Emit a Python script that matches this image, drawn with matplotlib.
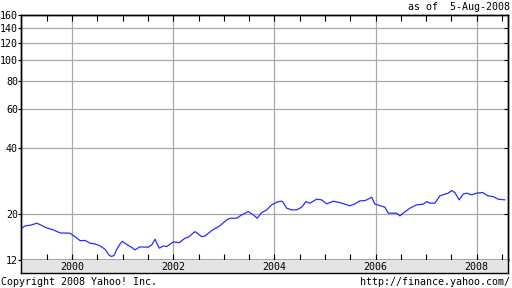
import matplotlib
matplotlib.use("Agg")
import matplotlib.pyplot as plt
from matplotlib.ticker import FixedLocator, NullFormatter, NullLocator

# ---- data (decimal year, price) ----
dates = [1999.006, 1999.071, 1999.19, 1999.302, 1999.387, 1999.5, 1999.63, 1999.763,
         1999.96, 2000.06, 2000.158, 2000.257, 2000.356, 2000.455, 2000.553, 2000.652,
         2000.737, 2000.78, 2000.83, 2000.889, 2000.949, 2000.994, 2001.081, 2001.18,
         2001.245, 2001.334, 2001.508, 2001.575, 2001.64, 2001.725, 2001.804, 2001.872,
         2002.002, 2002.12, 2002.233, 2002.298, 2002.431, 2002.563, 2002.628, 2002.761,
         2002.925, 2003.057, 2003.123, 2003.255, 2003.354, 2003.484, 2003.583, 2003.662,
         2003.749, 2003.848, 2003.947, 2004.045, 2004.125, 2004.164, 2004.243, 2004.342,
         2004.441, 2004.54, 2004.625, 2004.704, 2004.836, 2004.935, 2005.034, 2005.164,
         2005.296, 2005.395, 2005.494, 2005.593, 2005.692, 2005.791, 2005.856, 2005.923,
         2005.988, 2006.087, 2006.186, 2006.251, 2006.417, 2006.482, 2006.547, 2006.68,
         2006.812, 2006.943, 2007.01, 2007.075, 2007.174, 2007.273, 2007.372, 2007.437,
         2007.504, 2007.569, 2007.654, 2007.733, 2007.8, 2007.899, 2007.998, 2008.116,
         2008.227, 2008.326, 2008.425, 2008.557]
prices = [17.22, 17.64, 17.8, 18.15, 17.77, 17.27, 16.92, 16.39,
          16.34, 15.76, 15.12, 15.15, 14.72, 14.61, 14.31, 13.82,
          12.95, 12.82, 12.95, 13.87, 14.61, 15.0, 14.53, 14.08,
          13.72, 14.16, 14.12, 14.46, 15.35, 13.97, 14.31, 14.21,
          14.92, 14.81, 15.51, 15.67, 16.62, 15.76, 15.88, 16.79,
          17.69, 18.78, 19.12, 19.12, 19.79, 20.49, 19.79, 19.12,
          20.27, 20.86, 21.98, 22.61, 22.84, 22.75, 21.23, 20.86,
          20.86, 21.45, 22.75, 22.37, 23.33, 23.16, 22.21, 22.84,
          22.51, 22.14, 21.75, 22.21, 22.92, 22.99, 23.33, 23.82,
          22.14, 21.82, 21.45, 20.15, 20.15, 19.59, 20.15, 21.23,
          21.98, 22.14, 22.75, 22.37, 22.37, 24.15, 24.58, 24.84,
          25.52, 25.0, 23.16, 24.58, 24.84, 24.40, 24.84, 25.0,
          24.15, 23.97, 23.33, 23.16]

y_ticks = [20, 40, 60, 80, 100, 120, 140, 160]
y_labels = ["20", "40", "60", "80", "100", "120", "140", "160"]
y_min, y_min_label = 12.35, "12"
y_max = 160
x_min, x_max = 1998.99, 2008.62
year_ticks = [2000, 2002, 2004, 2006, 2008]
year_labels = ["2000", "2002", "2004", "2006", "2008"]
half_year_ticks = [1999.5 + 0.5 * i for i in range(19)]

FONT = "DejaVu Sans Mono"
FS = 7.2
W, H = 512, 288

fig = plt.figure(figsize=(W / 100, H / 100), dpi=100)
fig.patch.set_facecolor("white")

# main plot area: x 21..508, y 15..260 (pixels from top)
ax = fig.add_axes([21 / W, (H - 260) / H, 487 / W, 245 / H])
ax.set_yscale("log")
ax.set_xlim(x_min, x_max)
ax.set_ylim(y_min, y_max)

for yv in y_ticks[:-1]:
    ax.axhline(yv, color="#a8a8a8", lw=0.9, zorder=1)
for xv in year_ticks:
    ax.axvline(xv, color="#a8a8a8", lw=0.9, zorder=1)

ax.plot(dates, prices, color="#2b2bff", lw=0.9, zorder=3)

ax.yaxis.set_major_locator(FixedLocator([y_min] + y_ticks))
ax.set_yticklabels([y_min_label] + y_labels, fontfamily=FONT, fontsize=FS)
ax.yaxis.set_minor_locator(NullLocator())
ax.yaxis.set_minor_formatter(NullFormatter())
ax.tick_params(axis="y", which="major", direction="out", length=2, width=0.8,
               pad=0.2, left=True, right=False, color="black")

ax.xaxis.set_major_locator(FixedLocator(half_year_ticks))
ax.xaxis.set_major_formatter(NullFormatter())
ax.tick_params(axis="x", which="major", direction="in", length=4, width=0.8,
               top=True, bottom=True, color="black")

# right-side inward ticks
axr = ax.twinx()
axr.set_yscale("log")
axr.set_ylim(y_min, y_max)
axr.yaxis.set_major_locator(FixedLocator(y_ticks[:-1]))
axr.yaxis.set_minor_locator(NullLocator())
axr.yaxis.set_major_formatter(NullFormatter())
axr.yaxis.set_minor_formatter(NullFormatter())
axr.tick_params(axis="y", direction="in", length=3, width=0.8, color="black")

for a in (ax, axr):
    for s in a.spines.values():
        s.set_color("black")
        s.set_linewidth(1.0)

# gray band with year labels: y 260..273
band = fig.add_axes([21 / W, (H - 273) / H, 487 / W, 13 / H])
band.set_facecolor("#e4e4e4")
band.set_xlim(x_min, x_max)
band.set_ylim(0, 1)
band.set_xticks([])
band.set_yticks([])
for s in band.spines.values():
    s.set_color("black")
    s.set_linewidth(1.0)
band.spines["top"].set_visible(False)
for xv, lab in zip(year_ticks, year_labels):
    band.text(xv, 0.45, lab, ha="center", va="center", fontfamily=FONT, fontsize=FS)

fig.text(510 / W, 1 - 6.5 / H, "as of  5-Aug-2008", ha="right", va="center",
         fontfamily=FONT, fontsize=FS)
fig.text(1 / W, 1 - 282 / H, "Copyright 2008 Yahoo! Inc.", ha="left", va="center",
         fontfamily=FONT, fontsize=FS)
fig.text(510 / W, 1 - 282 / H, "http://finance.yahoo.com/", ha="right", va="center",
         fontfamily=FONT, fontsize=FS)

fig.savefig("out.png", dpi=100)
